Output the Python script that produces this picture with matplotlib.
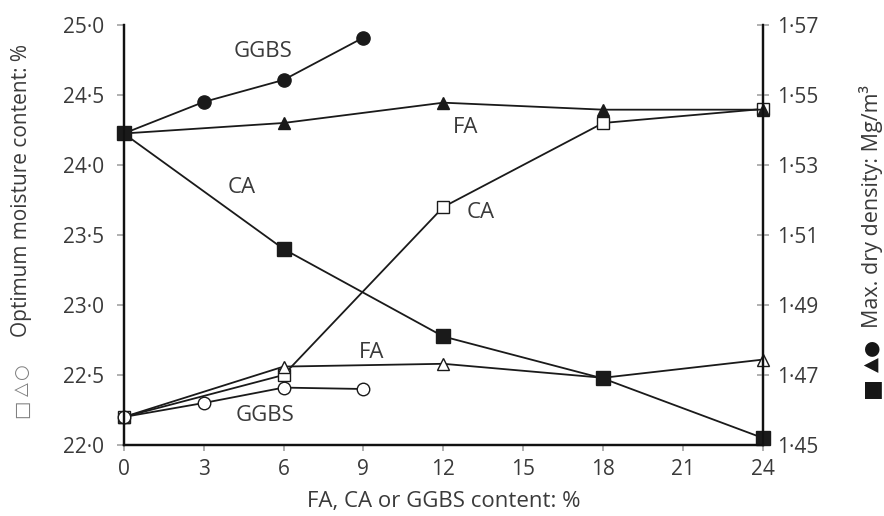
import matplotlib
matplotlib.use("Agg")
import matplotlib.pyplot as plt

# === Data ===
# optimum moisture content (%), left axis, open markers
ca_x = [0, 6, 12, 18, 24]
ca_omc = [22.2, 22.5, 23.7, 24.3, 24.4]
fa_x = [0, 6, 12, 18, 24]
fa_omc = [22.2, 22.56, 22.58, 22.48, 22.61]
ggbs_x = [0, 3, 6, 9]
ggbs_omc = [22.2, 22.3, 22.41, 22.4]

# max dry density (Mg/m3), right axis, filled markers
ca_mdd = [1.539, 1.506, 1.481, 1.469, 1.452]
fa_mdd = [1.539, 1.542, 1.5478, 1.5458, 1.5458]
ggbs_mdd = [1.539, 1.548, 1.5543, 1.5664]

x_ticks = [0, 3, 6, 9, 12, 15, 18, 21, 24]
left_ticks = [22.0, 22.5, 23.0, 23.5, 24.0, 24.5, 25.0]
left_labels = ["22·0", "22·5", "23·0", "23·5", "24·0", "24·5", "25·0"]
right_ticks = [1.45, 1.47, 1.49, 1.51, 1.53, 1.55, 1.57]
right_labels = ["1·45", "1·47", "1·49", "1·51", "1·53", "1·55", "1·57"]

# curve labels: (text, x, y on left axis)
curve_labels = [
    ("GGBS", 5.22, 24.81),
    ("FA", 12.85, 24.27),
    ("CA", 4.43, 23.84),
    ("CA", 13.41, 23.66),
    ("FA", 9.31, 22.66),
    ("GGBS", 5.29, 22.21),
]

# key symbols in the axis titles: (symbol, x, y in axes fraction, size)
left_keys = [("○", -0.160, 0.174, 13), ("△", -0.160, 0.134, 13), ("□", -0.160, 0.086, 14)]
right_keys = [("●", 1.169, 0.233, 14), ("▲", 1.169, 0.192, 14), ("■", 1.169, 0.138, 16)]

# === Style ===
TEXT_COLOR = "#3a3a3a"
TICK_COLOR = "#b0b0b0"
LINE_COLOR = "#1a1a1a"
FONT = ["Open Sans", "DejaVu Sans"]
plt.rcParams["font.family"] = FONT

fig = plt.figure(figsize=(8.84, 5.16), dpi=100)
ax = fig.add_axes([0.140, 0.1376, 0.723, 0.814])
ax2 = ax.twinx()

line_kw = dict(color=LINE_COLOR, linewidth=1.3, clip_on=False)

# open markers -> left axis
ax.plot(ca_x, ca_omc, marker="s", markersize=9, markerfacecolor="white",
        markeredgecolor=LINE_COLOR, markeredgewidth=1.0, **line_kw)
ax.plot(fa_x, fa_omc, marker="^", markersize=9, markerfacecolor="white",
        markeredgecolor=LINE_COLOR, markeredgewidth=1.0, **line_kw)
ax.plot(ggbs_x, ggbs_omc, marker="o", markersize=9, markerfacecolor="white",
        markeredgecolor=LINE_COLOR, markeredgewidth=1.0, **line_kw)

# filled markers -> right axis
ax2.plot(ca_x, ca_mdd, marker="s", markersize=10, markerfacecolor=LINE_COLOR,
         markeredgecolor=LINE_COLOR, **line_kw)
ax2.plot(fa_x, fa_mdd, marker="^", markersize=9, markerfacecolor=LINE_COLOR,
         markeredgecolor=LINE_COLOR, **line_kw)
ax2.plot(ggbs_x, ggbs_mdd, marker="o", markersize=9.5, markerfacecolor=LINE_COLOR,
         markeredgecolor=LINE_COLOR, **line_kw)

for txt, x, y in curve_labels:
    ax.text(x, y, txt, ha="center", va="center", fontsize=16, color=TEXT_COLOR)

# === Axes ===
ax.set_xlim(0, 24)
ax.set_ylim(22.0, 25.0)
ax2.set_ylim(1.45, 1.57)

ax.set_xticks(x_ticks)
ax.set_xticklabels([str(t) for t in x_ticks])
ax.set_yticks(left_ticks)
ax.set_yticklabels(left_labels)
ax2.set_yticks(right_ticks)
ax2.set_yticklabels(right_labels)

for a in (ax, ax2):
    a.spines["top"].set_visible(False)
    for s in ("left", "right", "bottom"):
        a.spines[s].set_linewidth(1.6)
        a.spines[s].set_color("#111111")

ax.tick_params(axis="x", direction="out", length=4, width=1.4, color=TICK_COLOR,
               labelsize=15, labelcolor=TEXT_COLOR, pad=6)
ax.tick_params(axis="y", direction="out", length=5, width=1.4, color=TICK_COLOR,
               labelsize=15, labelcolor=TEXT_COLOR, pad=9)
ax2.tick_params(axis="y", direction="inout", length=9, width=1.4, color=TICK_COLOR,
                labelsize=15, labelcolor=TEXT_COLOR, pad=6)

ax.set_xlabel("FA, CA or GGBS content: %", fontsize=16, color=TEXT_COLOR, labelpad=8)
ax.set_ylabel("Optimum moisture content: %", fontsize=15, color=TEXT_COLOR,
              va="center")
ax.yaxis.set_label_coords(-0.160, 0.605)
ax2.set_ylabel("Max. dry density: Mg/m³", fontsize=15.5, color=TEXT_COLOR,
               rotation=90, va="center")
ax2.yaxis.set_label_coords(1.169, 0.567)

for sym, x, y, size in left_keys:
    ax.text(x, y, sym, transform=ax.transAxes, rotation=90, ha="center", va="center",
            fontsize=size, color="#808080", family="DejaVu Sans", clip_on=False)
for sym, x, y, size in right_keys:
    ax.text(x, y, sym, transform=ax.transAxes, rotation=90, ha="center", va="center",
            fontsize=size, color="#151515", family="DejaVu Sans", clip_on=False)

fig.savefig("out.png", dpi=100)
